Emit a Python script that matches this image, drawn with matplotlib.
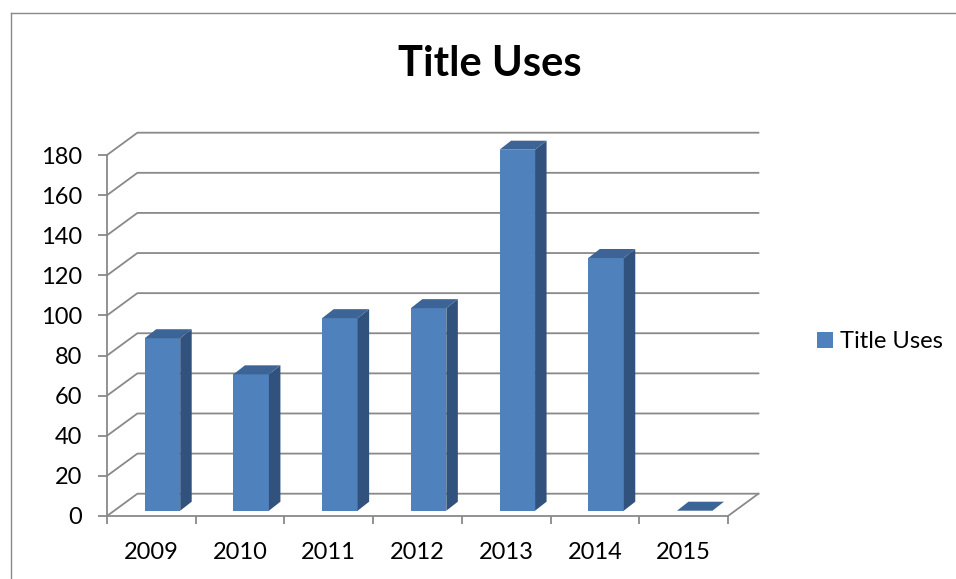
import matplotlib
matplotlib.use("Agg")
from matplotlib import pyplot as plt
from matplotlib.patches import Polygon, Patch
from matplotlib.lines import Line2D
import numpy as np

years = ["2009", "2010", "2011", "2012", "2013", "2014", "2015"]
title_uses = [86, 68, 96, 101, 180, 126, 0]
y_ticks = [0, 20, 40, 60, 80, 100, 120, 140, 160, 180]

plt.rcParams['font.family'] = ['Lato', 'DejaVu Sans']

W, H = 956, 579
fig = plt.figure(figsize=(W / 100, H / 100), dpi=100)
fig.patch.set_facecolor('white')

# front face of the plot box, in pixels
x0, x1 = 107, 728
y0, y1 = 516, 155
ax = fig.add_axes([x0 / W, 1 - y0 / H, (x1 - x0) / W, (y0 - y1) / H])
ax.set_xlim(0, len(years))
ax.set_ylim(0, 180)

grid_c = '#898989'
# depth of the 3-D box in data units
px_x = (x1 - x0) / len(years)
px_y = (y0 - y1) / 180
dx = 30.4 / px_x
dy = 22.3 / px_y

# back wall and side wall gridlines
for v in y_ticks:
    ax.add_line(Line2D([0, dx, len(years) + dx], [v, v + dy, v + dy],
                       color=grid_c, lw=1.3, clip_on=False, zorder=1))
# right edge of the floor
ax.add_line(Line2D([len(years), len(years) + dx], [0, dy],
                   color=grid_c, lw=1.3, clip_on=False, zorder=1))

# 3-D columns
front_c, side_c, top_c = '#4f81bd', '#31527c', '#3c6496'
bar_left = 0.425
bar_w = 35.5 / px_x
bar_base = 5.3 / px_y
bdx = 11.5 / px_x
bdy = 9.0 / px_y
for i, v in enumerate(title_uses):
    xl = i + bar_left
    xr = xl + bar_w
    yb = bar_base
    yt = bar_base + v
    ax.add_patch(Polygon([(xl, yb), (xr, yb), (xr, yt), (xl, yt)],
                         closed=True, fc=front_c, ec='none', clip_on=False, zorder=3))
    ax.add_patch(Polygon([(xr, yb), (xr + bdx, yb + bdy), (xr + bdx, yt + bdy), (xr, yt)],
                         closed=True, fc=side_c, ec='none', clip_on=False, zorder=3))
    ax.add_patch(Polygon([(xl, yt), (xr, yt), (xr + bdx, yt + bdy), (xl + bdx, yt + bdy)],
                         closed=True, fc=top_c, ec='none', clip_on=False, zorder=3))

# axes: only the front left and bottom edges
for s in ['top', 'right']:
    ax.spines[s].set_visible(False)
for s in ['left', 'bottom']:
    ax.spines[s].set_color(grid_c)
    ax.spines[s].set_linewidth(1.3)
ax.patch.set_alpha(0)

fs = 17
ax.set_yticks(y_ticks)
ax.tick_params(axis='y', length=6.5, width=1.3, color=grid_c, pad=11.5,
               labelsize=fs, labelcolor='black')
ax.set_xticks(np.arange(len(years) + 1))
ax.set_xticklabels([])
ax.tick_params(axis='x', which='major', length=5.8, width=1.3, color=grid_c)
ax.set_xticks(np.arange(len(years)) + 0.5, minor=True)
ax.set_xticklabels(years, minor=True)
ax.tick_params(axis='x', which='minor', length=0, pad=19, labelsize=fs,
               labelcolor='black')

fig.text(490 / W, 1 - 64 / H, "Title Uses", ha='center', va='center',
         fontsize=30, fontweight='bold')

fig.legend(handles=[Patch(fc=front_c, ec='none', label="Title Uses")],
           loc='center left', bbox_to_anchor=(817 / W, 1 - 342 / H),
           frameon=False, fontsize=fs, handlelength=0.68, handleheight=0.68,
           handletextpad=0.3, borderpad=0, borderaxespad=0)

# chart area border
fig.add_artist(Line2D([11 / W, 1], [1 - 13 / H, 1 - 13 / H], color=grid_c, lw=1.0))
fig.add_artist(Line2D([11 / W, 11 / W], [0, 1 - 13 / H], color=grid_c, lw=1.0))

fig.savefig("out.png", dpi=100)
